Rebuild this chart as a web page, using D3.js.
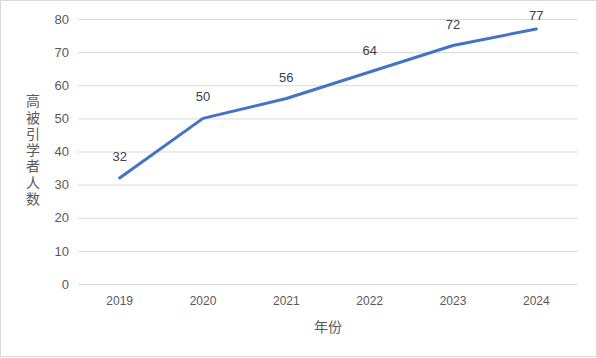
<!DOCTYPE html>
<html><head><meta charset="utf-8">
<script src="https://cdn.jsdelivr.net/npm/d3@7"></script>
<style>body{margin:0;background:#fff}svg{display:block}</style>
</head><body>
<svg id="c" width="597" height="358"></svg>
<script>
const years = ["2019","2020","2021","2022","2023","2024"];
const values = [32,50,56,64,72,77];
const yTicks = [0,10,20,30,40,50,60,70,80];
const xTitle = "年份";
const yTitle = "高被引学者人数";

const svg = d3.select("#c");
const W = 597, H = 358;
const m = {left:78, right:19, top:19, bottom:74};
svg.append("rect").attr("x",0.5).attr("y",0.5).attr("width",W-1).attr("height",H-2)
  .attr("fill","#fff").attr("stroke","#d9d9d9");

const x = d3.scaleBand().domain(years).range([m.left, W-m.right]);
const y = d3.scaleLinear().domain([0,80]).range([H-m.bottom, m.top]);
const font = "'Liberation Sans', 'DejaVu Sans', sans-serif";
const cjk = "'Noto Sans CJK SC', sans-serif";

const yAxis = svg.append("g").attr("transform",`translate(${m.left},0)`)
  .call(d3.axisLeft(y).tickValues(yTicks).tickSize(-(W-m.left-m.right)).tickPadding(9));
yAxis.select(".domain").remove();
yAxis.selectAll(".tick line").attr("stroke","#d9d9d9");
yAxis.selectAll(".tick text").attr("fill","#595959").style("font-family",font).style("font-size","13px");

const xAxis = svg.append("g").attr("transform",`translate(0,${H-m.bottom})`)
  .call(d3.axisBottom(x).tickSize(0).tickPadding(12));
xAxis.select(".domain").remove();
xAxis.selectAll(".tick text").attr("fill","#595959").style("font-family",font).style("font-size","12px");

const line = d3.line().x((d,i)=>x(years[i])+x.bandwidth()/2).y(d=>y(d));
svg.append("path").datum(values).attr("d",line).attr("fill","none")
  .attr("stroke","#4472C4").attr("stroke-width",3).attr("stroke-linejoin","round").attr("stroke-linecap","round");

svg.selectAll(".lbl").data(values).join("text").attr("class","lbl")
  .attr("x",(d,i)=>x(years[i])+x.bandwidth()/2).attr("y",d=>Math.max(y(d)-17, 20))
  .attr("text-anchor","middle").attr("fill","#404040")
  .style("font-family",font).style("font-size","13px").text(d=>d);

svg.append("text").attr("x",(m.left+W-m.right)/2).attr("y",332)
  .attr("text-anchor","middle").attr("fill","#595959")
  .style("font-family",cjk).style("font-size","14px").text(xTitle);

svg.append("text").attr("x",33).attr("y",151)
  .attr("text-anchor","middle").attr("fill","#595959")
  .style("font-family",cjk).style("font-size","14px")
  .style("writing-mode","vertical-rl").style("letter-spacing","2.3px")
  .text(yTitle);
</script>
</body></html>
